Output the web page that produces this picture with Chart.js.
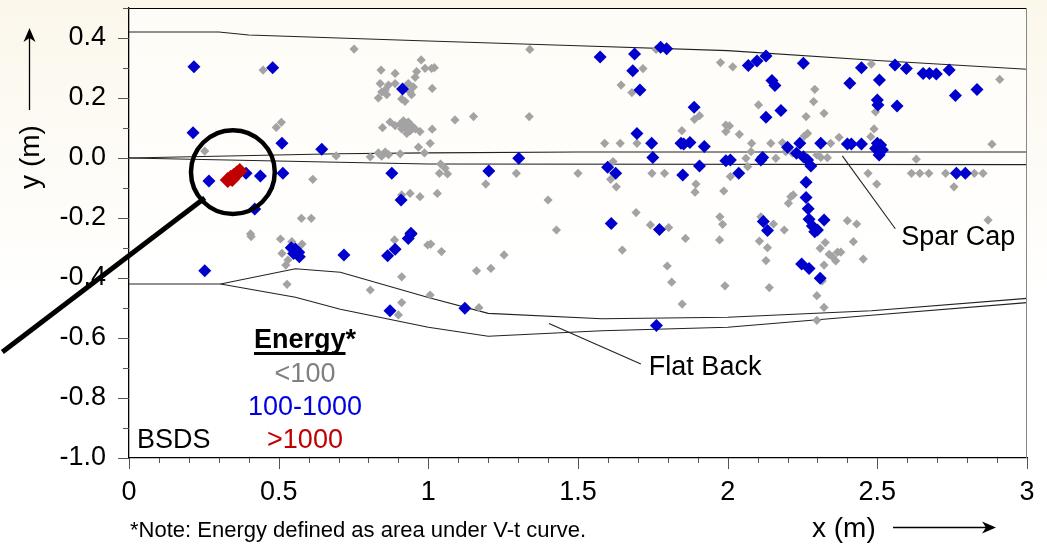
<!DOCTYPE html>
<html>
<head>
<meta charset="utf-8">
<script src="https://cdn.jsdelivr.net/npm/chart.js@4.4.1/dist/chart.umd.min.js"></script>
<style>
html, body { margin: 0; padding: 0; background: #fff; }
#wrap { width: 1047px; height: 547px; }
</style>
</head>
<body>
<div id="wrap"><canvas id="chart" width="1047" height="547"></canvas></div>
<script>
// ---- data (x, y in metres) ----
const lowEnergy = [ // < 100
  [0.752,0.363],[0.448,0.293],[0.976,0.327],[0.842,0.293],[0.889,0.282],[0.961,0.288],[0.956,0.269],[0.989,0.299],
  [0.839,0.248],[0.867,0.243],[0.889,0.248],[0.844,0.22],[0.833,0.2],[0.861,0.211],[0.856,0.227],[0.939,0.22],
  [0.944,0.211],[0.922,0.189],[0.911,0.197],[0.95,0.237],[0.933,0.248],
  [0.509,0.119],[0.492,0.102],[0.253,0.023],[0.692,0.007],[0.806,0.004],[0.614,-0.071],
  [0.847,0.101],[0.872,0.12],[0.889,0.108],[0.906,0.113],[0.917,0.124],[0.933,0.12],[0.944,0.108],[0.922,0.102],
  [0.939,0.09],[0.911,0.097],[0.956,0.097],[0.972,0.088],[0.928,0.082],
  [0.833,0.017],[0.856,0.02],[0.844,0.006],[0.867,0.011],[0.906,0.014],[0.967,0.036],[0.987,0.017],
  [0.911,-0.123],[0.939,-0.118],[0.972,-0.129],[0.576,-0.201],[0.609,-0.201],[0.406,-0.253],
  [1.339,0.362],[1.011,0.299],[1.02,0.301],[1.013,0.232],[1.976,0.318],[1.717,0.298],[1.644,0.243],[1.68,0.218],
  [1.761,0.362],[1.089,0.127],[1.151,0.138],[1.337,0.138],[1.013,0.096],[1.006,0.049],[1.589,0.049],[1.641,0.049],
  [1.697,0.049],[1.847,0.091],[1.889,0.129],[1.906,0.141],[1.994,0.11],[1.994,0.088],
  [1.041,-0.02],[1.056,-0.034],[1.037,-0.051],[1.064,-0.053],[1.03,-0.118],[1.294,-0.051],[1.192,-0.087],[1.5,-0.051],
  [1.4,-0.14],[1.428,-0.24],[1.617,-0.012],[1.609,-0.071],[1.628,-0.096],[1.747,-0.051],[1.789,-0.051],[1.894,-0.087],
  [1.891,-0.114],[1.987,-0.11],[1.694,-0.182],[1.742,-0.223],[1.803,-0.232],[1.974,-0.196],[1.983,-0.221],
  [2.017,0.304],[2.48,0.313],[2.909,0.262],[2.291,0.229],[2.287,0.188],[2.322,0.149],[2.262,0.138],[2.103,0.177],
  [2.494,0.154],[2.006,0.107],[2.039,0.079],[2.489,0.097],[2.478,0.071],[2.372,0.069],[2.267,0.082],[2.256,0.073],
  [2.08,0.049],[2.144,0.049],[2.183,0.051],[2.344,0.049],[2.883,0.046],[2.078,0.021],[2.061,-0.001],[2.161,-0.001],
  [2.194,0.021],[2.217,0.016],[2.298,0.01],[2.311,0.002],[2.333,0.001],[2.067,-0.029],[2.009,-0.062],[2.63,-0.004],
  [2.469,-0.051],[2.498,-0.087],[2.614,-0.051],[2.642,-0.051],[2.672,-0.051],[2.728,-0.051],[2.824,-0.051],
  [2.853,-0.051],[2.756,-0.096],[2.211,-0.129],[2.203,-0.151],[2.219,-0.123],[2.111,-0.196],[2.153,-0.22],
  [2.189,-0.24],[2.4,-0.209],[2.431,-0.22],[2.87,-0.207],
  [0.408,-0.262],[0.506,-0.27],[0.544,-0.279],[0.578,-0.287],[0.511,-0.318],[0.531,-0.34],[0.524,-0.357],
  [0.528,-0.421],[0.806,-0.44],[0.911,-0.396],[0.911,-0.482],[0.9,-0.523],[0.887,-0.273],[0.998,-0.29],
  [1.008,-0.287],[1.044,-0.312],[1.253,-0.323],[1.161,-0.376],[1.209,-0.368],[1.006,-0.457],[1.169,-0.499],
  [1.648,-0.307],[1.798,-0.36],[1.813,-0.414],[1.848,-0.487],[1.859,-0.268],[1.973,-0.273],[1.991,-0.426],
  [2.106,-0.277],[2.133,-0.299],[2.128,-0.342],[2.139,-0.432],[2.326,-0.282],[2.309,-0.301],[2.339,-0.321],
  [2.35,-0.329],[2.367,-0.314],[2.378,-0.314],[2.361,-0.343],[2.322,-0.357],[2.42,-0.279],[2.453,-0.337],
  [2.298,-0.459],[2.322,-0.498],[2.298,-0.541],[2.316,-0.41]
];
const midEnergy = [ // 100 - 1000
  [0.217,0.304],[0.48,0.301],[0.214,0.084],[0.511,0.049],[0.644,0.029],[0.267,-0.077],[0.391,-0.051],[0.439,-0.06],
  [0.514,-0.051],[0.42,-0.17],[0.914,0.23],[0.878,-0.051],[0.909,-0.14],[0.942,-0.251],
  [1.574,0.337],[1.689,0.347],[1.776,0.369],[1.796,0.364],[1.683,0.291],[1.707,0.227],[1.888,0.169],[1.697,0.082],
  [1.746,0.049],[1.844,0.049],[1.853,0.047],[1.874,0.052],[1.922,0.038],[1.75,0.002],[1.302,-0.001],[1.202,-0.043],
  [1.599,-0.031],[1.626,-0.051],[1.85,-0.057],[1.906,-0.027],[1.994,-0.009],[1.611,-0.218],[1.772,-0.238],
  [2.069,0.308],[2.098,0.323],[2.128,0.34],[2.253,0.316],[2.148,0.258],[2.158,0.242],[2.178,0.158],[2.128,0.136],
  [2.447,0.301],[2.408,0.249],[2.507,0.26],[2.5,0.193],[2.502,0.177],[2.566,0.173],[2.559,0.31],[2.597,0.298],
  [2.653,0.282],[2.674,0.282],[2.697,0.28],[2.74,0.293],[2.761,0.208],[2.833,0.228],[2.2,0.036],[2.241,0.049],
  [2.311,0.049],[2.23,0.016],[2.253,0.004],[2.267,-0.007],[2.278,-0.027],[2.4,0.047],[2.413,0.047],[2.447,0.047],
  [2.5,0.049],[2.511,0.043],[2.494,0.032],[2.517,0.027],[2.506,0.01],[2.111,-0.007],[2.117,0.002],[2.009,-0.007],
  [2.037,-0.051],[2.764,-0.051],[2.794,-0.051],[2.262,-0.081],[2.262,-0.132],[2.269,-0.169],[2.119,-0.212],
  [2.133,-0.242],[2.272,-0.204],[2.283,-0.227],[2.3,-0.24],[2.322,-0.207],
  [0.253,-0.376],[0.542,-0.299],[0.556,-0.303],[0.567,-0.314],[0.55,-0.318],[0.569,-0.329],[0.718,-0.323],
  [0.864,-0.326],[0.889,-0.304],[0.933,-0.268],[0.942,-0.253],[0.872,-0.509],
  [1.122,-0.501],[1.762,-0.558],[2.291,-0.246],[2.247,-0.353],[2.272,-0.368],[2.309,-0.401]
];
const highEnergy = [ // > 1000
  [0.33,-0.073],[0.345,-0.07],[0.34,-0.066],[0.35,-0.06],[0.36,-0.052],[0.37,-0.043]
];

// blade outline
const topEdgeX = [0, 0.3, 0.4, 1.0, 1.5, 2.0, 2.5, 3.0];
const topEdgeY = [0.42, 0.42, 0.41, 0.39, 0.374, 0.358, 0.325, 0.296];
const sparTopX = [0, 0.7, 1.0, 1.5, 3.0];
const sparTopY = [0, 0.014, 0.017, 0.02, 0.02];
const sparBotX = [0, 0.7, 1.0, 3.0];
const sparBotY = [0, -0.014, -0.02, -0.022];
const backTopX = [0, 0.306, 0.556, 0.706, 1.0, 1.2, 1.58, 2.0, 2.48, 3.0];
const backTopY = [-0.42, -0.42, -0.369, -0.381, -0.465, -0.518, -0.536, -0.531, -0.509, -0.468];
const backBotX = [0.306, 0.556, 0.706, 1.0, 1.2, 1.58, 2.0, 2.48, 3.0];
const backBotY = [-0.42, -0.464, -0.504, -0.564, -0.594, -0.576, -0.564, -0.524, -0.482];

// leader lines for the labels
const sparLeadX = [2.383, 2.56], sparLeadY = [0.007, -0.236];
const backLeadX = [1.403, 1.71], backLeadY = [-0.552, -0.687];

// magnifier round the high-energy cluster
const lensCenter = [0.347, -0.047], lensRadius = 0.14; // radius in x units
const lensHandleX = [0.253, -0.423], lensHandleY = [-0.133, -0.647];

const FONT = '"Liberation Sans", Arial, sans-serif';

function zip(xs, ys) { return xs.map((x, i) => ({ x: x, y: ys[i] })); }
function pts(arr) { return arr.map(p => ({ x: p[0], y: p[1] })); }

const outline = (data) => ({
    type: 'line', data: data, showLine: true, pointRadius: 0, borderColor: '#222',
    borderWidth: 1.1, fill: false, tension: 0
});

const bgPlugin = {
    id: 'bg',
    beforeDraw(chart) {
        const { ctx, width, height, chartArea: a } = chart;
        ctx.save();
        let g = ctx.createLinearGradient(0, 0, 0, height);
        g.addColorStop(0, '#fbf7eb');
        g.addColorStop(0.55, '#ffffff');
        g.addColorStop(1, '#ffffff');
        ctx.fillStyle = g;
        ctx.fillRect(0, 0, width, height);
        g = ctx.createLinearGradient(0, a.top, 0, a.bottom);
        g.addColorStop(0, '#fefcf6');
        g.addColorStop(0.6, '#ffffff');
        ctx.fillStyle = g;
        ctx.fillRect(a.left, a.top, a.right - a.left, a.bottom - a.top);
        ctx.restore();
    }
};

function arrowHead(ctx, x, y, dir) {
    // dir: 'up' or 'right'
    ctx.beginPath();
    if (dir === 'up') {
        ctx.moveTo(x, y); ctx.lineTo(x - 6, y + 14); ctx.lineTo(x, y + 10); ctx.lineTo(x + 6, y + 14);
    } else {
        ctx.moveTo(x, y); ctx.lineTo(x - 14, y - 6); ctx.lineTo(x - 10, y); ctx.lineTo(x - 14, y + 6);
    }
    ctx.closePath();
    ctx.fill();
}

const decorPlugin = {
    id: 'decor',
    afterDatasetsDraw(chart) {
        const { ctx, chartArea: a, scales: { x, y } } = chart;
        ctx.save();

        // top and right frame
        ctx.lineWidth = 1;
        ctx.strokeStyle = '#000';
        ctx.beginPath(); ctx.moveTo(a.left, a.top + 0.5); ctx.lineTo(a.right, a.top + 0.5); ctx.stroke();
        ctx.strokeStyle = '#888';
        ctx.beginPath(); ctx.moveTo(a.right - 0.5, a.top); ctx.lineTo(a.right - 0.5, a.bottom); ctx.stroke();

        // tick marks, long at labelled values
        ctx.strokeStyle = '#555';
        x.ticks.forEach(t => {
            const px = Math.round(x.getPixelForValue(t.value)) + 0.5;
            const major = Math.round(t.value * 10) % 5 === 0;
            ctx.beginPath(); ctx.moveTo(px, a.bottom); ctx.lineTo(px, a.bottom + (major ? 11 : 5)); ctx.stroke();
        });
        y.ticks.forEach(t => {
            const py = Math.round(y.getPixelForValue(t.value)) + 0.5;
            const major = Math.round(t.value * 10) % 2 === 0;
            ctx.beginPath(); ctx.moveTo(a.left, py); ctx.lineTo(a.left - (major ? 11 : 6), py); ctx.stroke();
        });

        // magnifier
        const cx = x.getPixelForValue(lensCenter[0]), cy = y.getPixelForValue(lensCenter[1]);
        const r = x.getPixelForValue(lensRadius) - x.getPixelForValue(0);
        ctx.strokeStyle = '#000';
        ctx.lineWidth = 4.5;
        ctx.beginPath(); ctx.arc(cx, cy, r, 0, Math.PI * 2); ctx.stroke();
        ctx.lineWidth = 5;
        ctx.beginPath();
        ctx.moveTo(x.getPixelForValue(lensHandleX[0]), y.getPixelForValue(lensHandleY[0]));
        ctx.lineTo(x.getPixelForValue(lensHandleX[1]), y.getPixelForValue(lensHandleY[1]));
        ctx.stroke();

        // labels
        ctx.fillStyle = '#000';
        ctx.font = '27px ' + FONT;
        ctx.textAlign = 'left';
        ctx.textBaseline = 'alphabetic';
        ctx.fillText('Spar Cap', x.getPixelForValue(sparLeadX[1]) + 6, y.getPixelForValue(sparLeadY[1]) + 16);
        ctx.fillText('Flat Back', x.getPixelForValue(backLeadX[1]) + 8, y.getPixelForValue(backLeadY[1]) + 11);
        ctx.fillText('BSDS', 137, 448);

        // energy legend
        ctx.textAlign = 'center';
        ctx.font = 'bold 27px ' + FONT;
        ctx.fillText('Energy*', 305, 348);
        const wE = ctx.measureText('Energy').width, wAll = ctx.measureText('Energy*').width;
        ctx.fillRect(305 - wAll / 2, 352, wE, 3);
        ctx.font = '27px ' + FONT;
        ctx.fillStyle = '#808080'; ctx.fillText('<100', 305, 382);
        ctx.fillStyle = '#0000e0'; ctx.fillText('100-1000', 305, 415);
        ctx.fillStyle = '#c00000'; ctx.fillText('>1000', 305, 448);

        // axis titles with arrows
        ctx.fillStyle = '#000';
        ctx.font = '28px ' + FONT;
        ctx.save();
        ctx.translate(31, 157);
        ctx.rotate(-Math.PI / 2);
        ctx.textAlign = 'center';
        ctx.textBaseline = 'middle';
        ctx.fillText('y (m)', 0, 0);
        ctx.restore();
        ctx.textAlign = 'left';
        ctx.fillText('x (m)', 812, 537);

        ctx.strokeStyle = '#000';
        ctx.lineWidth = 1.3;
        ctx.beginPath(); ctx.moveTo(29.5, 110); ctx.lineTo(29.5, 36); ctx.stroke();
        arrowHead(ctx, 29.5, 28, 'up');
        ctx.beginPath(); ctx.moveTo(893, 527.5); ctx.lineTo(987, 527.5); ctx.stroke();
        arrowHead(ctx, 996, 527.5, 'right');

        ctx.font = '22px ' + FONT;
        ctx.fillText('*Note: Energy defined as area under V-t curve.', 130, 537);
        ctx.restore();
    }
};

new Chart(document.getElementById('chart'), {
    type: 'scatter',
    data: {
        datasets: [
            { label: '>1000', data: pts(highEnergy), pointStyle: 'rectRot', pointRadius: 8,
              backgroundColor: '#c00000', borderWidth: 0 },
            { label: '100-1000', data: pts(midEnergy), pointStyle: 'rectRot', pointRadius: 6.5,
              backgroundColor: '#0000cc', borderWidth: 0 },
            { label: '<100', data: pts(lowEnergy), pointStyle: 'rectRot', pointRadius: 4.6,
              backgroundColor: '#a3a3a3', borderWidth: 0 },
            outline(zip(topEdgeX, topEdgeY)),
            outline(zip(sparTopX, sparTopY)),
            outline(zip(sparBotX, sparBotY)),
            outline(zip(backTopX, backTopY)),
            outline(zip(backBotX, backBotY)),
            outline(zip(sparLeadX, sparLeadY)),
            outline(zip(backLeadX, backLeadY))
        ]
    },
    options: {
        responsive: false,
        animation: false,
        layout: { autoPadding: false, padding: { top: 8, right: 20, left: 0, bottom: 0 } },
        plugins: { legend: { display: false }, tooltip: { enabled: false } },
        scales: {
            x: {
                type: 'linear', min: 0, max: 3,
                afterFit(scale) { scale.height = 89; scale.paddingLeft = 0; scale.paddingRight = 0; },
                grid: { drawOnChartArea: false, drawTicks: false, color: 'rgba(0,0,0,0)' },
                border: { display: true, color: '#000', width: 1.3 },
                ticks: {
                    stepSize: 0.1, autoSkip: false, maxRotation: 0, padding: 18, color: '#000',
                    font: { family: FONT, size: 27 },
                    callback: v => (Math.round(v * 10) % 5 === 0 ? String(Math.round(v * 10) / 10) : '')
                }
            },
            y: {
                type: 'linear', min: -1, max: 0.5,
                afterFit(scale) { scale.width = 129; scale.paddingTop = 0; scale.paddingBottom = 0; },
                grid: { drawOnChartArea: false, drawTicks: false, color: 'rgba(0,0,0,0)' },
                border: { display: true, color: '#000', width: 1.3 },
                ticks: {
                    stepSize: 0.1, autoSkip: false, padding: 23, color: '#000',
                    font: { family: FONT, size: 27 },
                    callback: v => (Math.round(v * 10) % 2 === 0 ? (Math.round(v * 10) / 10).toFixed(1) : '')
                }
            }
        }
    },
    plugins: [bgPlugin, decorPlugin]
});
</script>
</body>
</html>
